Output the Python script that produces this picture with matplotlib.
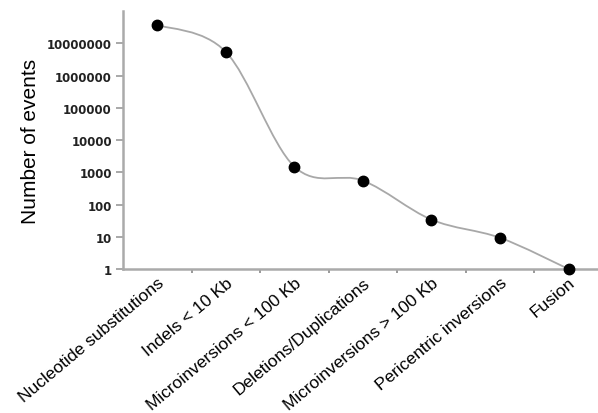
import numpy as np
import matplotlib
matplotlib.use('Agg')
from matplotlib import pyplot as plt
from matplotlib.path import Path
from matplotlib.patches import PathPatch

# данные
categories = ['Nucleotide substitutions', 'Indels < 10 Kb',
              'Microinversions < 100 Kb', 'Deletions/Duplications',
              'Microinversions > 100 Kb', 'Pericentric inversions', 'Fusion']
events = [3.7e7, 5.4e6, 1500, 550, 34, 9.3, 1]
ytick_values = [1, 10, 100, 1000, 10000, 100000, 1000000, 10000000]
ytick_labels = ['1', '10', '100', '1000', '10000', '100000', '1000000',
                '10000000']

plt.rcParams['font.family'] = ['Liberation Sans', 'DejaVu Sans']

fig = plt.figure(figsize=(5.98, 4.14), dpi=100)
ax = fig.add_axes([0.2057, 0.3478, 0.7943, 0.6232])
ax.set_yscale('log')

x = np.arange(len(categories))
ly = np.log10(events)

# сглаженная линия (Catmull-Rom -> кривые Безье) в лог. координатах
verts = [(x[0], events[0])]
codes = [Path.MOVETO]
n = len(x)
for i in range(n - 1):
    p0 = (x[max(i - 1, 0)], ly[max(i - 1, 0)])
    p1 = (x[i], ly[i])
    p2 = (x[i + 1], ly[i + 1])
    p3 = (x[min(i + 2, n - 1)], ly[min(i + 2, n - 1)])
    c1 = (p1[0] + (p2[0] - p0[0]) / 6, p1[1] + (p2[1] - p0[1]) / 6)
    c2 = (p2[0] - (p3[0] - p1[0]) / 6, p2[1] - (p3[1] - p1[1]) / 6)
    for c in (c1, c2, p2):
        verts.append((c[0], 10 ** c[1]))
        codes.append(Path.CURVE4)
ax.add_patch(PathPatch(Path(verts, codes), facecolor='none',
                       edgecolor='#a8a8a8', lw=1.3, zorder=2))

ax.plot(x, events, 'o', color='black', markersize=7.5, zorder=3,
        clip_on=False)

ax.set_xlim(-0.5, 6.43)
ax.set_ylim(1, 1e8)
ax.set_yticks(ytick_values)
ax.set_yticklabels(ytick_labels, fontsize=8.5, fontweight='bold',
                   family='DejaVu Sans', color='#222222')
ax.yaxis.set_minor_locator(matplotlib.ticker.NullLocator())
ax.set_xticks(x)
ax.set_xticklabels(categories, rotation=40, ha='right',
                   rotation_mode='anchor', fontsize=12.5)
ax.set_xticks(x[:-1] + 0.5, minor=True)
ax.tick_params(axis='x', which='major', length=0, pad=4)
ax.tick_params(axis='x', which='minor', length=3, color='#888888',
               width=1.2, direction='out')
ax.tick_params(axis='y', length=5, color='#999999', width=1.2, pad=3)

for s in ['top', 'right']:
    ax.spines[s].set_visible(False)
for s in ['left', 'bottom']:
    ax.spines[s].set_color('#aaaaaa')
    ax.spines[s].set_linewidth(1.8)

ax.set_ylabel('Number of events', fontsize=15, labelpad=5)

fig.savefig('out.png', dpi=100)
